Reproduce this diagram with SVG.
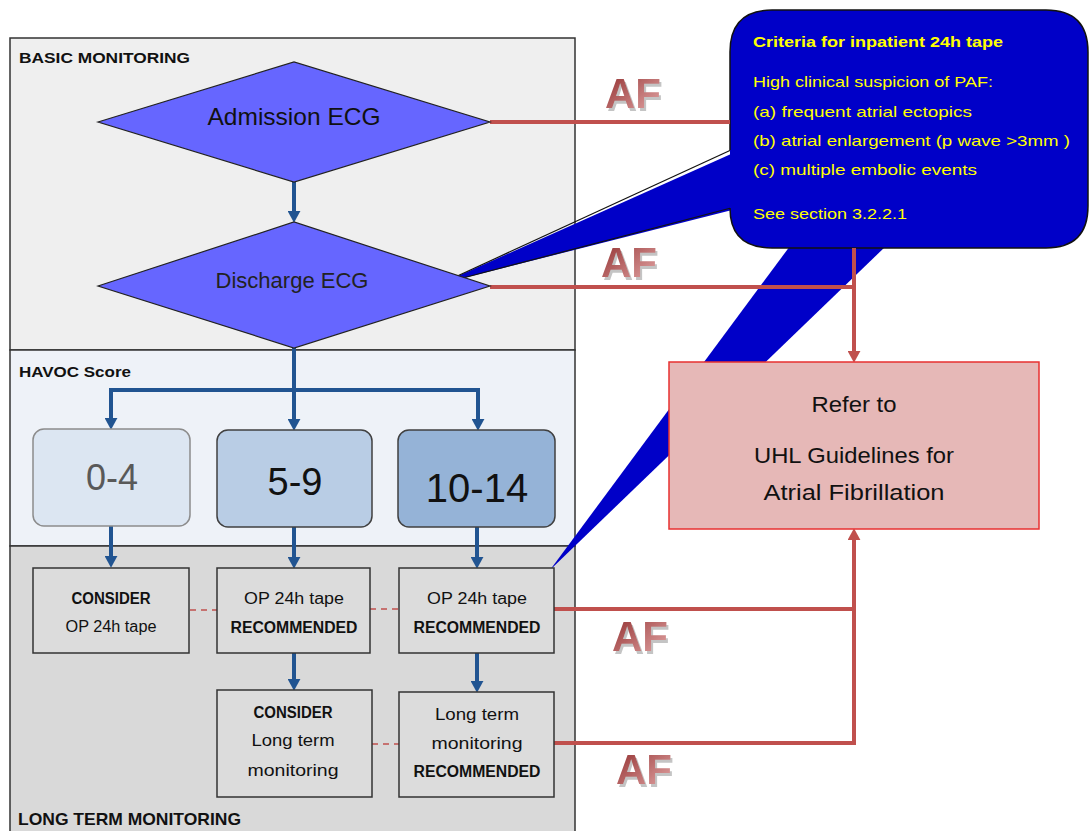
<svg xmlns="http://www.w3.org/2000/svg" width="1091" height="831" viewBox="0 0 1091 831">
<style>
text{font-family:"Liberation Sans",Arial,sans-serif;}
.panel{stroke:#333;stroke-width:1.5;}
.lbl{font-weight:bold;font-size:15px;fill:#111;}
.dia{fill:#6666FF;stroke:#222;stroke-width:1.2;}
.box{fill:#DCDCDC;stroke:#333;stroke-width:1.5;}
.bt{font-size:16px;fill:#111;text-anchor:middle;}
.bb{font-size:16px;font-weight:bold;fill:#111;text-anchor:middle;}
.blue{fill:none;stroke:#215491;stroke-width:4;}
.red{fill:none;stroke:#C0504D;stroke-width:4;}
.dash{fill:none;stroke:#C0504D;stroke-width:1.5;stroke-dasharray:6,5;}
.ct{font-size:15px;fill:#FFFF00;}
.af{font-size:42px;font-weight:bold;fill:url(#afg);filter:url(#sh);}
.big{text-anchor:middle;}
</style>
<defs>
<marker id="ab" markerUnits="userSpaceOnUse" viewBox="0 0 12 12" refX="2" refY="6" markerWidth="13" markerHeight="13" orient="auto"><path d="M0,0 L11,6 L0,12 z" fill="#215491"/></marker>
<marker id="ar" markerUnits="userSpaceOnUse" viewBox="0 0 12 12" refX="2" refY="6" markerWidth="13" markerHeight="13" orient="auto"><path d="M0,0 L11,6 L0,12 z" fill="#C0504D"/></marker>
<linearGradient id="afg" x1="0" y1="0" x2="1" y2="1"><stop offset="0" stop-color="#8E2A2A"/><stop offset="1" stop-color="#E9AFAF"/></linearGradient>
<filter id="sh" x="-20%" y="-20%" width="140%" height="140%">
<feFlood flood-color="#C4C4C4" result="f"/>
<feComposite in="f" in2="SourceAlpha" operator="in" result="s"/>
<feOffset in="s" dx="2" dy="3" result="o"/>
<feMerge><feMergeNode in="o"/><feMergeNode in="SourceGraphic"/></feMerge>
</filter>
</defs>

<g id="panels">
<rect class="panel" x="10" y="38" width="565" height="312" fill="#EFEFEF"/>
<rect class="panel" x="10" y="350" width="565" height="196" fill="#EEF2F8"/>
<rect class="panel" x="10" y="546" width="565" height="300" fill="#D9D9D9"/>
<text class="lbl" x="19" y="63" font-size="14" textLength="171" lengthAdjust="spacingAndGlyphs">BASIC MONITORING</text>
<text class="lbl" x="19" y="377" textLength="112" lengthAdjust="spacingAndGlyphs">HAVOC Score</text>
<text class="lbl" x="18" y="825" style="font-size:17px" textLength="223" lengthAdjust="spacingAndGlyphs">LONG TERM MONITORING</text>
</g>

<g id="callout">
<polygon points="790,246 886,246 550,570" fill="#0000C8"/>
<polygon points="740,150 740,208 440,284" fill="#0000C8"/>
<line x1="731" y1="150" x2="440" y2="284" stroke="#111" stroke-width="1.2"/>
<line x1="731" y1="208" x2="440" y2="284" stroke="#111" stroke-width="1.2"/>
<path d="M730,150 V52 Q730,10 772,10 H1046 Q1088,10 1088,52 V206 Q1088,248 1046,248 H772 Q730,248 730,208" fill="#0000C8" stroke="#111" stroke-width="1.5"/>
<text class="ct" x="753" y="47" font-weight="bold" textLength="250" lengthAdjust="spacingAndGlyphs">Criteria for inpatient 24h tape</text>
<text class="ct" x="753" y="87" textLength="240" lengthAdjust="spacingAndGlyphs">High clinical suspicion of PAF:</text>
<text class="ct" x="753" y="117" textLength="219" lengthAdjust="spacingAndGlyphs">(a) frequent atrial ectopics</text>
<text class="ct" x="753" y="146" textLength="317" lengthAdjust="spacingAndGlyphs">(b) atrial enlargement (p wave &gt;3mm )</text>
<text class="ct" x="753" y="175" textLength="224" lengthAdjust="spacingAndGlyphs">(c) multiple embolic events</text>
<text class="ct" x="753" y="219" textLength="154" lengthAdjust="spacingAndGlyphs">See section 3.2.2.1</text>
</g>

<g id="connectors">
<line class="blue" x1="294" y1="182" x2="294" y2="213" marker-end="url(#ab)"/>
<line class="blue" x1="294" y1="348" x2="294" y2="421" marker-end="url(#ab)"/>
<path class="blue" d="M111,420 V390 H478 V421" />
<line class="blue" x1="111" y1="400" x2="111" y2="420" marker-end="url(#ab)"/>
<line class="blue" x1="478" y1="400" x2="478" y2="421" marker-end="url(#ab)"/>
<line class="blue" x1="111" y1="526" x2="111" y2="558" marker-end="url(#ab)"/>
<line class="blue" x1="294" y1="527" x2="294" y2="559" marker-end="url(#ab)"/>
<line class="blue" x1="477" y1="527" x2="477" y2="559" marker-end="url(#ab)"/>
<line class="blue" x1="294" y1="653" x2="294" y2="681" marker-end="url(#ab)"/>
<line class="blue" x1="477" y1="653" x2="477" y2="683" marker-end="url(#ab)"/>
<line class="red" x1="490" y1="122" x2="730" y2="122"/>
<path class="red" d="M490,287 H854"/>
<line class="red" x1="854" y1="248" x2="854" y2="353" marker-end="url(#ar)"/>
<path class="red" d="M553,609 H854"/>
<path class="red" d="M553,743 H854 V538" marker-end="url(#ar)"/>
<line class="dash" x1="190" y1="610" x2="217" y2="610"/>
<line class="dash" x1="370" y1="609" x2="399" y2="609"/>
<line class="dash" x1="372" y1="744" x2="399" y2="744"/>
</g>

<g id="af-labels">
<text class="af" x="605" y="108">AF</text>
<text class="af" x="601" y="277">AF</text>
<text class="af" x="612" y="651">AF</text>
<text class="af" x="616" y="784">AF</text>
</g>

<g id="admission">
<polygon class="dia" points="98,122 294,62 490,122 294,182"/>
<text x="294" y="125" class="big" font-size="24" fill="#111" textLength="173" lengthAdjust="spacingAndGlyphs">Admission ECG</text>
</g>
<g id="discharge">
<polygon class="dia" points="98,286 294,222 490,286 294,348"/>
<text x="292" y="288" class="big" font-size="22" fill="#222" textLength="153" lengthAdjust="spacingAndGlyphs">Discharge ECG</text>
</g>

<g id="score-0-4">
<rect x="33" y="429" width="157" height="97" rx="11" fill="#DCE6F2" stroke="#8C8C8C" stroke-width="1.5"/>
<text x="112" y="490" class="big" font-size="36" fill="#595959">0-4</text>
</g>
<g id="score-5-9">
<rect x="217" y="430" width="155" height="97" rx="11" fill="#B9CDE5" stroke="#404040" stroke-width="1.5"/>
<text x="295" y="495" class="big" font-size="38" fill="#111">5-9</text>
</g>
<g id="score-10-14">
<rect x="398" y="430" width="157" height="97" rx="11" fill="#95B3D7" stroke="#404040" stroke-width="1.5"/>
<text x="477" y="502" class="big" font-size="40" fill="#111">10-14</text>
</g>

<g id="box-consider-op">
<rect class="box" x="33" y="568" width="156" height="85"/>
<text class="bb" x="111" y="604" textLength="79" lengthAdjust="spacingAndGlyphs">CONSIDER</text>
<text class="bt" x="111" y="632" textLength="91" lengthAdjust="spacingAndGlyphs">OP 24h tape</text>
</g>
<g id="box-op-rec-1">
<rect class="box" x="217" y="568" width="153" height="85"/>
<text class="bt" x="294" y="604" textLength="100" lengthAdjust="spacingAndGlyphs">OP 24h tape</text>
<text class="bb" x="294" y="633" textLength="127" lengthAdjust="spacingAndGlyphs">RECOMMENDED</text>
</g>
<g id="box-op-rec-2">
<rect class="box" x="399" y="568" width="155" height="85"/>
<text class="bt" x="477" y="604" textLength="100" lengthAdjust="spacingAndGlyphs">OP 24h tape</text>
<text class="bb" x="477" y="633" textLength="127" lengthAdjust="spacingAndGlyphs">RECOMMENDED</text>
</g>
<g id="box-consider-lt">
<rect class="box" x="217" y="690" width="155" height="107"/>
<text class="bb" x="293" y="718" textLength="79" lengthAdjust="spacingAndGlyphs">CONSIDER</text>
<text class="bt" x="293" y="746" textLength="83" lengthAdjust="spacingAndGlyphs">Long term</text>
<text class="bt" x="293" y="776" textLength="91" lengthAdjust="spacingAndGlyphs">monitoring</text>
</g>
<g id="box-lt-rec">
<rect class="box" x="399" y="692" width="155" height="105"/>
<text class="bt" x="477" y="720" textLength="84" lengthAdjust="spacingAndGlyphs">Long term</text>
<text class="bt" x="477" y="749" textLength="91" lengthAdjust="spacingAndGlyphs">monitoring</text>
<text class="bb" x="477" y="777" textLength="127" lengthAdjust="spacingAndGlyphs">RECOMMENDED</text>
</g>

<g id="refer">
<rect x="669" y="362" width="370" height="167" fill="#E6B8B7" stroke="#E83030" stroke-width="1.5"/>
<text x="854" y="412" class="big" font-size="22" fill="#111" textLength="85" lengthAdjust="spacingAndGlyphs">Refer to</text>
<text x="854" y="463" class="big" font-size="22" fill="#111" textLength="200" lengthAdjust="spacingAndGlyphs">UHL Guidelines for</text>
<text x="854" y="500" class="big" font-size="22" fill="#111" textLength="181" lengthAdjust="spacingAndGlyphs">Atrial Fibrillation</text>
</g>
</svg>
